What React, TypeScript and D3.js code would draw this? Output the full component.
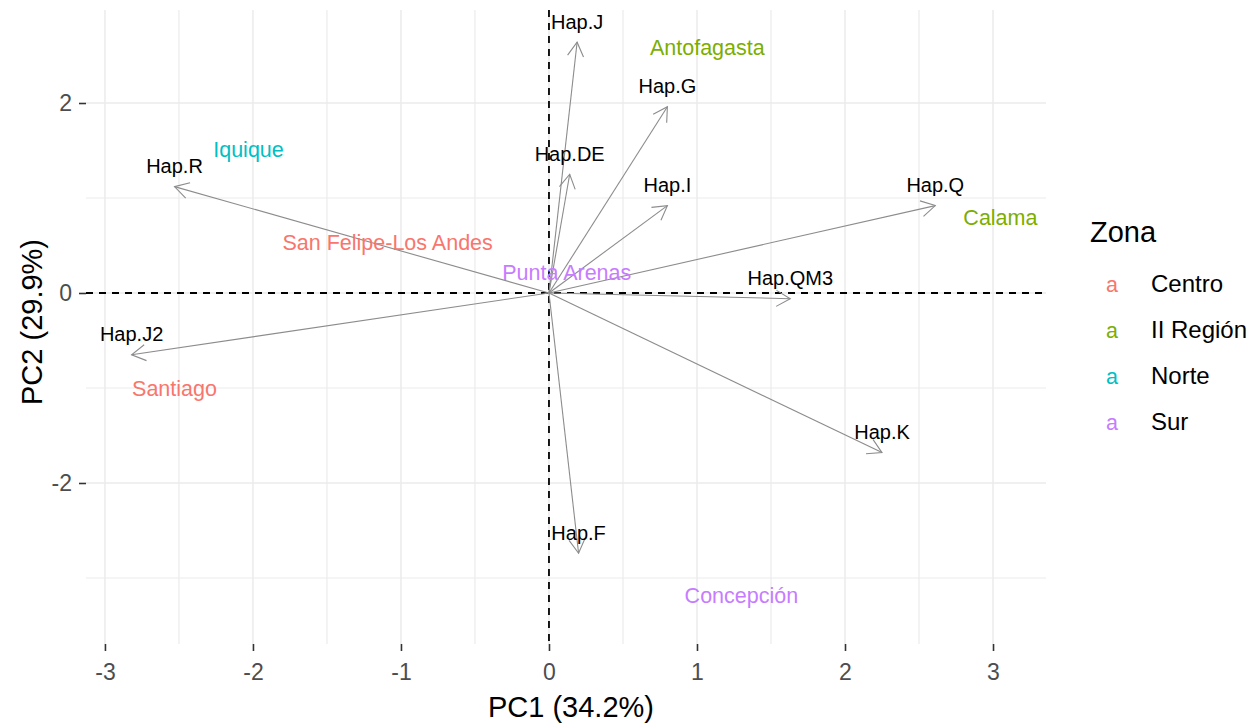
import React, { useEffect, useRef } from 'react';
import * as d3 from 'd3';

// loadings (arrow tips)
const hapNames = ['Hap.J', 'Hap.G', 'Hap.DE', 'Hap.I', 'Hap.Q', 'Hap.QM3', 'Hap.K', 'Hap.F', 'Hap.J2', 'Hap.R'];
const hapPC1 = [0.19, 0.8, 0.14, 0.8, 2.61, 1.63, 2.25, 0.2, -2.82, -2.53];
const hapPC2 = [2.64, 1.96, 1.25, 0.92, 0.92, -0.06, -1.68, -2.74, -0.65, 1.12];

// sites (scores)
const siteNames = ['Iquique', 'Antofagasta', 'San Felipe-Los Andes', 'Punta Arenas', 'Calama', 'Santiago', 'Concepción'];
const sitePC1 = [-2.03, 1.07, -1.09, 0.12, 3.05, -2.53, 1.3];
const sitePC2 = [1.51, 2.58, 0.53, 0.22, 0.8, -1.0, -3.18];
const siteZona = ['Norte', 'II Región', 'Centro', 'Sur', 'II Región', 'Centro', 'Sur'];

const zonas = ['Centro', 'II Región', 'Norte', 'Sur'];
const zonaColors = ['#F8766D', '#7CAE00', '#00BFC4', '#C77CFF'];

const xTicks = [-3, -2, -1, 0, 1, 2, 3];
const yTicks = [-2, 0, 2];
const xMinor = [-2.5, -1.5, -0.5, 0.5, 1.5, 2.5];
const yMinor = [-3, -1, 1];

const FONT = "'Liberation Sans', Arial, sans-serif";

export default function App() {
  const ref = useRef<SVGSVGElement>(null);

  useEffect(() => {
    const width = 1253;
    const height = 725;
    const left = 86, right = 1046, top = 10, bottom = 644;

    const x = d3.scaleLinear().domain([-3.128, 3.358]).range([left, right]);
    const y = d3.scaleLinear().domain([-3.695, 2.979]).range([bottom, top]);
    const color = d3.scaleOrdinal<string, string>().domain(zonas).range(zonaColors);

    const svg = d3.select(ref.current!)
      .attr('width', width)
      .attr('height', height)
      .style('background', 'white')
      .style('font-family', FONT);
    svg.selectAll('*').remove();

    const defs = svg.append('defs');
    defs.append('marker')
      .attr('id', 'arrowhead')
      .attr('markerUnits', 'userSpaceOnUse')
      .attr('viewBox', '-16 -10 18 20')
      .attr('refX', 0)
      .attr('refY', 0)
      .attr('markerWidth', 18)
      .attr('markerHeight', 20)
      .attr('orient', 'auto')
      .style('overflow', 'visible')
      .append('path')
      .attr('d', 'M-13.9,-8L0,0L-13.9,8')
      .attr('fill', 'none')
      .attr('stroke', '#8c8c8c')
      .attr('stroke-width', 1.1);

    // grid
    const grid = svg.append('g');
    grid.selectAll('.vminor').data(xMinor).enter().append('line')
      .attr('x1', d => x(d)).attr('x2', d => x(d)).attr('y1', top).attr('y2', bottom)
      .attr('stroke', '#EBEBEB').attr('stroke-width', 1.2);
    grid.selectAll('.hminor').data(yMinor).enter().append('line')
      .attr('x1', left).attr('x2', right).attr('y1', d => y(d)).attr('y2', d => y(d))
      .attr('stroke', '#EBEBEB').attr('stroke-width', 1.2);
    grid.selectAll('.vmajor').data(xTicks).enter().append('line')
      .attr('x1', d => x(d)).attr('x2', d => x(d)).attr('y1', top).attr('y2', bottom)
      .attr('stroke', '#EBEBEB').attr('stroke-width', 1.5);
    grid.selectAll('.hmajor').data(yTicks).enter().append('line')
      .attr('x1', left).attr('x2', right).attr('y1', d => y(d)).attr('y2', d => y(d))
      .attr('stroke', '#EBEBEB').attr('stroke-width', 1.5);

    // reference lines at 0
    svg.append('line')
      .attr('x1', x(0)).attr('x2', x(0)).attr('y1', top).attr('y2', bottom)
      .attr('stroke', 'black').attr('stroke-width', 1.8).attr('stroke-dasharray', '7,6');
    svg.append('line')
      .attr('x1', left).attr('x2', right).attr('y1', y(0)).attr('y2', y(0))
      .attr('stroke', 'black').attr('stroke-width', 1.8).attr('stroke-dasharray', '7,6');

    // arrows
    const idx = d3.range(hapNames.length);
    svg.append('g').selectAll('line').data(idx).enter().append('line')
      .attr('x1', x(0)).attr('y1', y(0))
      .attr('x2', i => x(hapPC1[i])).attr('y2', i => y(hapPC2[i]))
      .attr('stroke', '#8c8c8c').attr('stroke-width', 1.1)
      .attr('marker-end', 'url(#arrowhead)');

    svg.append('g').selectAll('text').data(idx).enter().append('text')
      .attr('x', i => x(hapPC1[i]))
      .attr('y', i => y(hapPC2[i]) - 13.5)
      .attr('text-anchor', 'middle')
      .style('font-size', '20px')
      .attr('fill', 'black')
      .text(i => hapNames[i]);

    // site labels
    const sIdx = d3.range(siteNames.length);
    svg.append('g').selectAll('text').data(sIdx).enter().append('text')
      .attr('x', i => x(sitePC1[i]))
      .attr('y', i => y(sitePC2[i]))
      .attr('dy', '0.35em')
      .attr('text-anchor', 'middle')
      .style('font-size', '21.5px')
      .attr('fill', i => color(siteZona[i]))
      .text(i => siteNames[i]);

    // axes
    const xAxis = d3.axisBottom(x).tickValues(xTicks).tickSize(7).tickPadding(13).tickFormat(d => String(d));
    const gx = svg.append('g').attr('transform', `translate(0,${bottom})`).call(xAxis);
    const yAxis = d3.axisLeft(y).tickValues(yTicks).tickSize(7).tickPadding(7).tickFormat(d => String(d));
    const gy = svg.append('g').attr('transform', `translate(${left},0)`).call(yAxis);
    [gx, gy].forEach(g => {
      g.select('.domain').remove();
      g.selectAll('line').attr('stroke', '#333333').attr('stroke-width', 1.6);
      g.selectAll('text').attr('fill', '#4D4D4D').style('font-size', '23px').style('font-family', FONT);
    });

    // axis titles
    svg.append('text')
      .attr('x', 571).attr('y', 717)
      .attr('text-anchor', 'middle')
      .style('font-size', '29px')
      .text('PC1 (34.2%)');
    svg.append('text')
      .attr('transform', 'translate(42,322) rotate(-90)')
      .attr('text-anchor', 'middle')
      .style('font-size', '29px')
      .text('PC2 (29.9%)');

    // legend
    const legend = svg.append('g');
    legend.append('text')
      .attr('x', 1090).attr('y', 242)
      .style('font-size', '29px')
      .text('Zona');
    const rows = legend.selectAll('g.row').data(zonas).enter().append('g')
      .attr('transform', (_d, i) => `translate(0,${292 + i * 46})`);
    rows.append('text')
      .attr('x', 1112).attr('y', -8).attr('dy', '0.35em')
      .attr('text-anchor', 'middle')
      .style('font-size', '21.5px')
      .attr('fill', d => color(d))
      .text('a');
    rows.append('text')
      .attr('x', 1151).attr('y', 0)
      .style('font-size', '24px')
      .text(d => d);
  }, []);

  return (
    <div style={{ position: 'absolute', left: 0, top: 0 }}>
      <svg ref={ref} style={{ display: 'block' }}></svg>
    </div>
  );
}
